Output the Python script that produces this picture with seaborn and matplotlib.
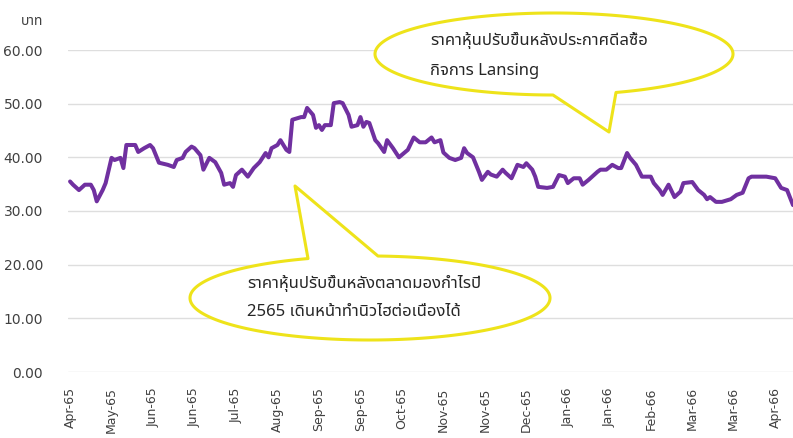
import numpy as np
import pandas as pd
import matplotlib
matplotlib.use("Agg")
import matplotlib.pyplot as plt
import seaborn as sns
from matplotlib import font_manager
from matplotlib.ft2font import FT2Font
from matplotlib.path import Path
from matplotlib.patches import PathPatch

# ---------------- data ----------------
day_index = [0, 1, 3, 5, 7, 8, 9, 11, 12, 14, 15, 17, 18, 19, 20, 22, 23, 25, 27, 28,
             30, 33, 35, 36, 38, 39, 41, 42, 44, 45, 47, 49, 51, 52, 54, 55, 56, 58, 60, 62,
             64, 66, 67, 68, 70, 71, 73, 74, 75, 78, 79, 80, 82, 83, 84, 85, 86, 88, 89, 91,
             92, 94, 95, 97, 98, 99, 100, 101, 103, 104, 106, 107, 109, 111, 114, 116, 118, 120, 122, 123,
             125, 126, 128, 130, 132, 133, 134, 135, 136, 138, 139, 141, 142, 144, 146, 147, 149, 151, 153, 154,
             156, 157, 158, 161, 163, 165, 167, 168, 170, 172, 173, 175, 178, 179, 181, 183, 185, 186, 188, 189,
             191, 193, 196, 197, 199, 200, 202, 204, 206, 207, 210, 212, 214, 215, 216, 218, 220, 223, 224, 225,
             227, 229, 230, 233, 235, 238, 240, 242, 244]
price = [35.5, 34.9, 33.9, 34.9, 34.9, 33.9, 31.8, 33.9, 35.2, 39.9, 39.5, 39.9, 38.0, 42.3, 42.3, 42.3, 41.0, 41.7, 42.3, 41.7,
         39.0, 38.6, 38.2, 39.5, 39.9, 41.0, 42.0, 41.7, 40.4, 37.7, 39.9, 39.1, 37.1, 34.9, 35.2, 34.5, 36.7, 37.7, 36.4, 38.0,
         39.1, 40.8, 40.0, 41.7, 42.3, 43.2, 41.4, 41.0, 47.0, 47.5, 47.5, 49.2, 47.9, 45.5, 46.0, 45.1, 46.0, 46.0, 50.1, 50.3,
         50.1, 47.9, 45.7, 46.0, 47.5, 45.7, 46.6, 46.4, 43.2, 42.6, 41.0, 43.2, 41.7, 40.0, 41.4, 43.7, 42.8, 42.8, 43.7, 42.8,
         43.2, 40.9, 39.9, 39.5, 39.9, 41.7, 40.8, 40.4, 40.0, 37.3, 35.8, 37.3, 36.8, 36.4, 37.7, 37.1, 36.1, 38.6, 38.2, 38.9,
         37.7, 36.4, 34.5, 34.3, 34.5, 36.7, 36.4, 35.2, 36.1, 36.1, 34.9, 35.8, 37.3, 37.7, 37.7, 38.6, 38.0, 38.0, 40.8, 39.9,
         38.6, 36.4, 36.4, 35.2, 33.9, 33.0, 34.9, 32.6, 33.6, 35.2, 35.4, 33.9, 33.0, 32.2, 32.6, 31.7, 31.7, 32.2, 32.6, 33.0,
         33.4, 36.1, 36.4, 36.4, 36.4, 36.1, 34.3, 33.9, 31.1]
tick_labels = ["Apr-65", "May-65", "Jun-65", "Jun-65", "Jul-65", "Aug-65", "Sep-65", "Sep-65", "Oct-65",
               "Nov-65", "Nov-65", "Dec-65", "Jan-66", "Jan-66", "Feb-66", "Mar-66", "Mar-66", "Apr-66"]
tick_step = 14
y_ticks = [0, 10, 20, 30, 40, 50, 60]
unit_label = "บาท"
note_top = ["ราคาหุ้นปรับขึ้นหลังประกาศดีลซื้อ", "กิจการ Lansing"]
note_bottom = ["ราคาหุ้นปรับขึ้นหลังตลาดมองกำไรปี", "2565 เดินหน้าทำนิวไฮต่อเนื่องได้"]

df = pd.DataFrame({"day": day_index, "price": price})

# ---------------- fonts ----------------
def find_thai_family():
    names = []
    for f in font_manager.fontManager.ttflist:
        try:
            cm = FT2Font(f.fname).get_charmap()
        except Exception:
            continue
        if 0x0E23 in cm and 0x0E49 in cm and 0x0E33 in cm:
            names.append(f.name)
    pref = ["Noto Sans Thai", "Noto Sans Thai Looped", "Loma", "Garuda", "Kinnari", "Sarabun", "Laksaman"]
    for p in pref:
        if p in names:
            return p
    return names[0] if names else None

sns.set_theme(style="white")
thai = find_thai_family()
fam = ([thai] if thai else []) + ["DejaVu Sans"]
plt.rcParams["font.family"] = ["DejaVu Sans"]

text_col = "#404040"
note_col = "#262626"
line_col = "#7030A0"
yellow = "#EEE31A"

fig = plt.figure(figsize=(7.93, 4.38), dpi=100)
ax = fig.add_axes([68 / 793, 1 - 372 / 438, 1 - 68 / 793, (372 - 50) / 438])

sns.lineplot(data=df, x="day", y="price", ax=ax, color=line_col, linewidth=2.9, zorder=3)

ax.set_xlim(-0.7, 244)
ax.set_ylim(0, 60)
ax.set_yticks(y_ticks)
ax.set_yticklabels([f"{v:.2f}" for v in y_ticks], fontsize=10, color=text_col)
ax.set_xticks([i * tick_step for i in range(len(tick_labels))])
ax.set_xticklabels(tick_labels, fontsize=9, color=text_col)
ax.tick_params(axis="x", length=0, pad=11, labelrotation=90)
ax.tick_params(axis="y", length=0, pad=18)
ax.set_xlabel("")
ax.set_ylabel("")
ax.yaxis.grid(True, color="#dedede", linewidth=1)
ax.xaxis.grid(False)
for s in ax.spines.values():
    s.set_visible(False)

fig.text(43 / 793, 1 - 25 / 438, unit_label, ha="right", va="baseline", fontsize=10,
         color=text_col, family=fam)

# ---------------- callouts (overlay in pixel coordinates) ----------------
oax = fig.add_axes([0, 0, 1, 1], zorder=5)
oax.set_xlim(0, 793)
oax.set_ylim(438, 0)
oax.axis("off")
oax.patch.set_alpha(0)


def bubble(cx, cy, a, b, x1, x2, tip, below):
    if below:  # tail hangs under the ellipse
        t2 = np.arccos((x2 - cx) / a)
        t1 = np.arccos((x1 - cx) / a) - 2 * np.pi
    else:      # tail rises from the top of the ellipse
        t2 = -np.arccos((x2 - cx) / a)
        t1 = -np.arccos((x1 - cx) / a) + 2 * np.pi
    t = np.linspace(t2, t1, 300)
    pts = [tip] + list(zip(cx + a * np.cos(t), cy + b * np.sin(t))) + [tip]
    codes = [Path.MOVETO] + [Path.LINETO] * (len(pts) - 2) + [Path.CLOSEPOLY]
    oax.add_patch(PathPatch(Path(pts, codes), fc="white", ec=yellow, lw=2.2,
                            joinstyle="round", zorder=5))


bubble(554, 54, 179, 41, 553, 616, (609, 132), below=True)
bubble(370, 298, 180, 42, 308, 378, (295, 186), below=False)

for txt, (x, y) in zip(note_top, [(430, 45), (430, 75)]):
    oax.text(x, y, txt, fontsize=12, color=note_col, family=fam, va="baseline", zorder=6)
for txt, (x, y) in zip(note_bottom, [(247, 288), (247, 316)]):
    oax.text(x, y, txt, fontsize=12, color=note_col, family=fam, va="baseline", zorder=6)

fig.savefig("out.png", dpi=100)
